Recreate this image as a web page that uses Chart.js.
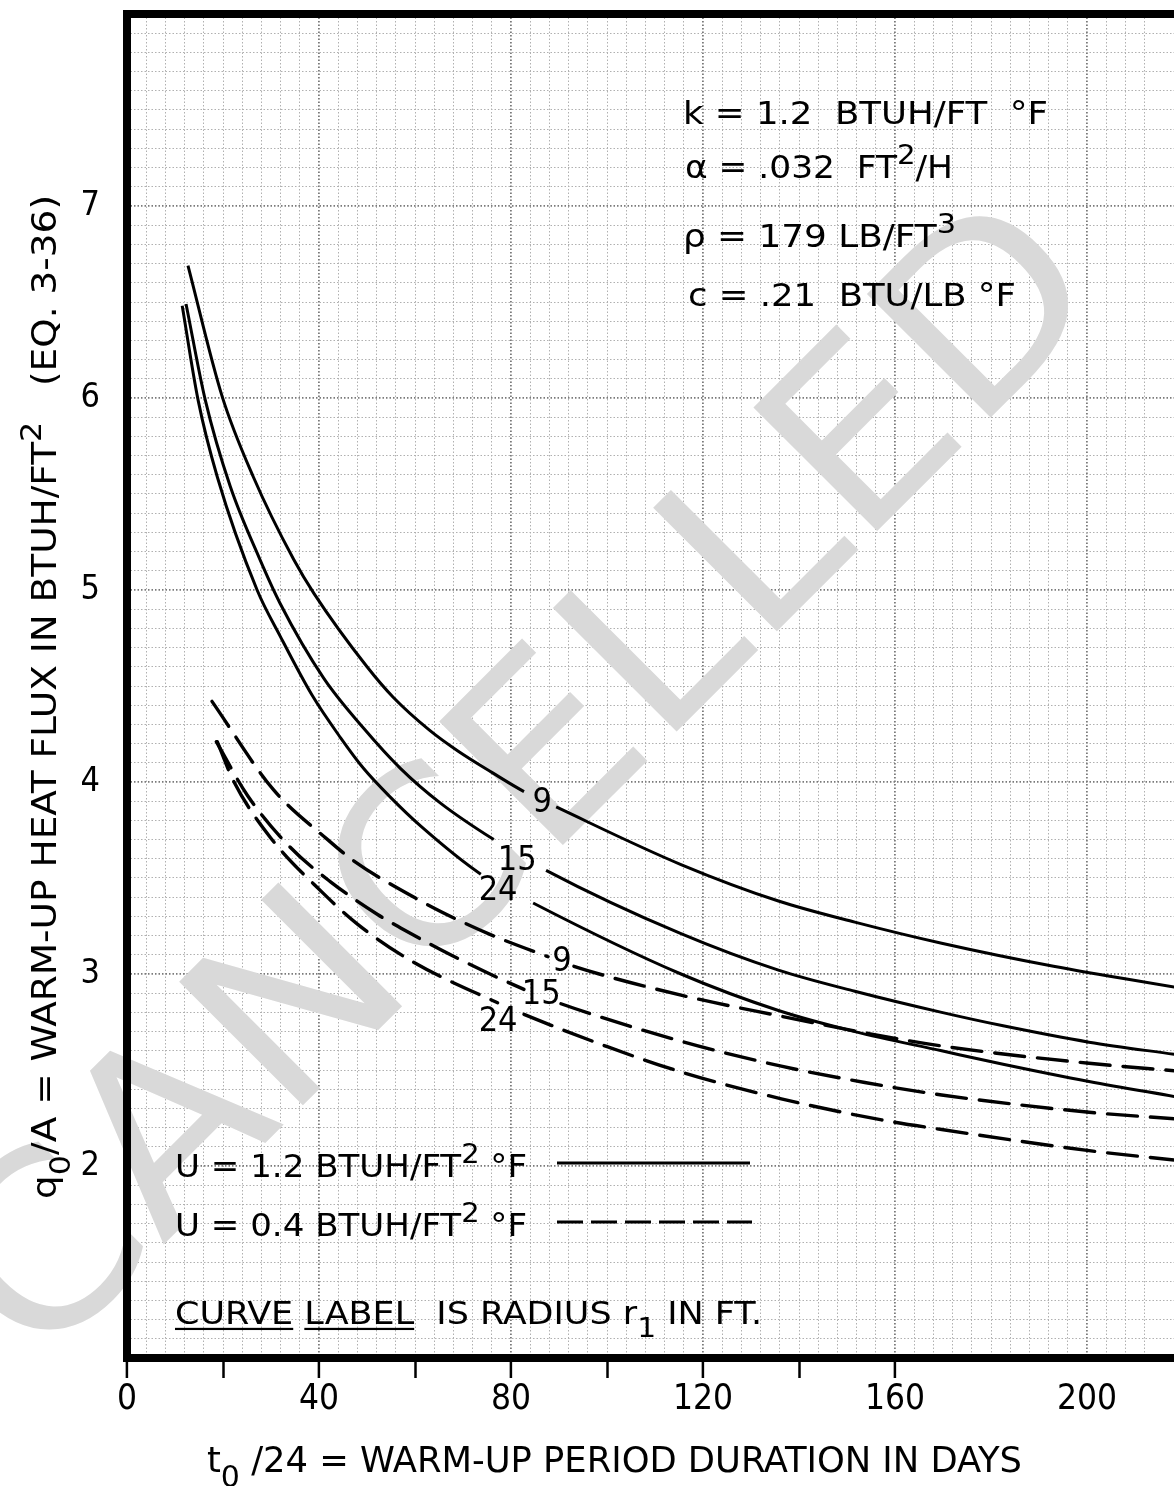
<!DOCTYPE html>
<html>
<head>
<meta charset="utf-8">
<script src="https://cdn.jsdelivr.net/npm/chart.js@4.4.1/dist/chart.umd.min.js"></script>
<style>
html,body{margin:0;padding:0;background:#fff;overflow:hidden}
#wrap{position:relative;width:1174px;height:1486px}
</style>
</head>
<body>
<div id="wrap"><canvas id="c" width="1174" height="1486"></canvas></div>
<script>
const FONT = "'DejaVu Sans Condensed','DejaVu Sans',sans-serif";

// ---------- DATA ----------
const curveLabels = ['9', '15', '24'];           // radius r1 in ft
const xTickLabels = [0, 40, 80, 120, 160, 200];   // days
const yTickLabels = [2, 3, 4, 5, 6, 7];           // BTUH/FT2

// U = 1.2 BTUH/FT2 F (solid)
const daysSolidR9  = [12.7, 19.8, 26.3, 34.7, 39, 50, 55.5, 63, 69, 76, 82.7, 89.4, 115.4, 135.7, 151.6, 169.7, 193, 218.6];
const fluxSolidR9  = [6.69, 6.01, 5.59, 5.16, 4.98, 4.60, 4.44, 4.27, 4.16, 4.05, 3.95, 3.87, 3.57, 3.38, 3.27, 3.16, 3.04, 2.93];
const daysSolidR15 = [12.3, 16.3, 21.5, 27.5, 31.9, 41, 49.3, 57, 65.3, 76.4, 87.3, 115.4, 135.7, 151.6, 169.7, 182.5, 200.4, 218.6];
const fluxSolidR15 = [6.49, 5.99, 5.54, 5.17, 4.93, 4.54, 4.28, 4.07, 3.89, 3.70, 3.54, 3.21, 3.02, 2.91, 2.80, 2.73, 2.645, 2.58];
const daysSolidR24 = [11.5, 14.8, 18.8, 27.1, 31.9, 38.6, 44.5, 49.3, 54.9, 61.2, 73.7, 84.6, 115.4, 135.7, 151.6, 169.7, 182.5, 200.4, 218.6];
const fluxSolidR24 = [6.48, 5.99, 5.59, 5.00, 4.76, 4.45, 4.23, 4.07, 3.92, 3.77, 3.52, 3.37, 3.00, 2.81, 2.70, 2.60, 2.53, 2.44, 2.36];

// U = 0.4 BTUH/FT2 F (dashed)
const daysDashedR9  = [17.7, 30.5, 41.8, 47.2, 61.2, 69.9, 76.2, 87.7, 93.1, 115.4, 136.3, 154.5, 169.7, 200.4, 218.6];
const fluxDashedR9  = [4.42, 3.96, 3.70, 3.59, 3.38, 3.27, 3.20, 3.09, 3.04, 2.89, 2.78, 2.69, 2.625, 2.535, 2.495];
const daysDashedR15 = [18.6, 25.1, 34.0, 42.4, 52.2, 57, 67.4, 82.7, 90.4, 115.4, 136.3, 153.7, 169.7, 200.4, 218.6];
const fluxDashedR15 = [4.21, 3.93, 3.66, 3.48, 3.31, 3.24, 3.10, 2.92, 2.845, 2.65, 2.52, 2.435, 2.37, 2.28, 2.245];
const daysDashedR24 = [18.8, 22.1, 29.9, 40.9, 48, 59.1, 77.2, 82.7, 100.2, 115.4, 136.3, 157.2, 169.7, 200.4, 218.6];
const fluxDashedR24 = [4.21, 4.01, 3.71, 3.42, 3.26, 3.07, 2.85, 2.79, 2.62, 2.49, 2.35, 2.24, 2.19, 2.08, 2.03];

// breaks in the curves where the radius label sits (days)
const gapSolid  = [[82.7, 89.4], [76.4, 87.3], [73.7, 84.6]];
const gapDashed = [[87.7, 93.1], [82.7, 90.4], [77.2, 82.7]];
// curve label anchors (days, flux)
const labelSolidDays  = [86.5, 81.3, 77.3];
const labelSolidFlux  = [3.89, 3.59, 3.43];
const labelDashedDays = [90.6, 86.3, 77.3];
const labelDashedFlux = [3.06, 2.89, 2.75];

// ---------- CHART ----------
const solidDays = [daysSolidR9, daysSolidR15, daysSolidR24];
const solidFlux = [fluxSolidR9, fluxSolidR15, fluxSolidR24];
const dashedDays = [daysDashedR9, daysDashedR15, daysDashedR24];
const dashedFlux = [fluxDashedR9, fluxDashedR15, fluxDashedR24];

function makeSet(days, flux, gap, dashed, name) {
  return {
    label: name,
    data: days.map((d, i) => ({x: d, y: flux[i]})),
    borderColor: '#000',
    borderWidth: dashed ? 3.4 : 3.0,
    borderDash: dashed ? [30, 13] : [],
    borderCapStyle: dashed ? 'round' : 'butt',
    pointRadius: 0,
    fill: false,
    cubicInterpolationMode: 'monotone',
    segment: {
      borderColor: c => (c.p0.parsed.x >= gap[0] - 1e-9 && c.p1.parsed.x <= gap[1] + 1e-9) ? 'rgba(0,0,0,0)' : '#000'
    }
  };
}
const datasets = [];
for (let i = 0; i < 3; i++) datasets.push(makeSet(solidDays[i], solidFlux[i], gapSolid[i], false, 'U=1.2 r=' + curveLabels[i]));
for (let i = 0; i < 3; i++) datasets.push(makeSet(dashedDays[i], dashedFlux[i], gapDashed[i], true, 'U=0.4 r=' + curveLabels[i]));

function fontFor(size) { return size + 'px ' + FONT; }
function drawRich(ctx, segs, x, y, size, targetW, angle) {
  ctx.save();
  ctx.translate(x, y);
  if (angle) ctx.rotate(angle);
  ctx.textAlign = 'left';
  ctx.textBaseline = 'alphabetic';
  let w = 0;
  const widths = segs.map(s => {
    const sz = (s.sup || s.sub) ? size * 0.85 : size;
    ctx.font = fontFor(sz);
    const m = ctx.measureText(s.t).width;
    w += m;
    return m;
  });
  const sx = targetW ? targetW / w : 1;
  ctx.scale(sx, 1);
  let cx = 0;
  segs.forEach((s, i) => {
    const sz = (s.sup || s.sub) ? size * 0.85 : size;
    ctx.font = fontFor(sz);
    const dy = s.sup ? -0.45 * size : (s.sub ? 0.42 * size : 0);
    ctx.fillStyle = '#000';
    ctx.fillText(s.t, cx, dy);
    if (s.ul) {
      ctx.fillRect(cx, 0.12 * size, widths[i], 2.2);
    }
    cx += widths[i];
  });
  ctx.restore();
}

const watermark = {
  id: 'watermark',
  beforeDatasetsDraw(chart) {
    const ctx = chart.ctx;
    ctx.save();
    ctx.translate(530, 790);
    ctx.rotate(-45 * Math.PI / 180);
    ctx.font = "240px 'DejaVu Sans', sans-serif";
    const txt = 'CANCELLED';
    const w = ctx.measureText(txt).width;
    ctx.scale(1520 / w, 1);
    ctx.fillStyle = '#d9d9d9';
    ctx.textAlign = 'center';
    ctx.textBaseline = 'middle';
    ctx.fillText(txt, 0, 0);
    ctx.restore();
  }
};

const annotations = {
  id: 'annotations',
  afterDatasetsDraw(chart) {
    const ctx = chart.ctx;
    const xs = chart.scales.x, ys = chart.scales.y;

    // curve labels
    ctx.save();
    ctx.fillStyle = '#000';
    ctx.textAlign = 'center';
    ctx.textBaseline = 'middle';
    ctx.font = fontFor(34);
    for (let i = 0; i < 3; i++) {
      ctx.fillText(curveLabels[i], xs.getPixelForValue(labelSolidDays[i]), ys.getPixelForValue(labelSolidFlux[i]));
      ctx.fillText(curveLabels[i], xs.getPixelForValue(labelDashedDays[i]), ys.getPixelForValue(labelDashedFlux[i]));
    }
    ctx.restore();

    // property block
    drawRich(ctx, [{t: 'k = 1.2  BTUH/FT  °F'}], 683, 124, 32, 365);
    drawRich(ctx, [{t: 'α = .032  FT'}, {t: '2', sup: 1}, {t: '/H'}], 685, 178, 32, 268);
    drawRich(ctx, [{t: 'ρ = 179 LB/FT'}, {t: '3', sup: 1}], 683, 247, 32, 273);
    drawRich(ctx, [{t: 'c = .21  BTU/LB °F'}], 688, 306, 32, 328);

    // legend block
    drawRich(ctx, [{t: 'U = 1.2 BTUH/FT'}, {t: '2', sup: 1}, {t: ' °F'}], 175, 1177, 32, 352);
    drawRich(ctx, [{t: 'U = 0.4 BTUH/FT'}, {t: '2', sup: 1}, {t: ' °F'}], 175, 1236, 32, 352);
    drawRich(ctx, [{t: 'CURVE', ul: 1}, {t: ' '}, {t: 'LABEL', ul: 1}, {t: '  IS RADIUS r'}, {t: '1', sub: 1}, {t: ' IN FT.'}], 175, 1324, 32, 587);
    ctx.save();
    ctx.strokeStyle = '#000';
    ctx.lineWidth = 3;
    ctx.beginPath(); ctx.moveTo(557, 1163); ctx.lineTo(750, 1163); ctx.stroke();
    ctx.setLineDash([26, 8]);
    ctx.beginPath(); ctx.moveTo(557, 1222); ctx.lineTo(752, 1222); ctx.stroke();
    ctx.restore();
  },
  afterDraw(chart) {
    const ctx = chart.ctx;
    const a = chart.chartArea;
    // heavy frame
    ctx.save();
    ctx.strokeStyle = '#000';
    ctx.lineWidth = 8;
    ctx.lineCap = 'square';
    ctx.beginPath();
    ctx.moveTo(a.right + 10, a.top);
    ctx.lineTo(a.left, a.top);
    ctx.lineTo(a.left, a.bottom);
    ctx.lineTo(a.right + 10, a.bottom);
    ctx.stroke();
    ctx.restore();
    // axis titles
    drawRich(ctx, [{t: 't'}, {t: '0', sub: 1}, {t: ' /24 = WARM-UP PERIOD DURATION IN DAYS'}], 207, 1472, 36, 815);
    drawRich(ctx, [{t: 'q'}, {t: '0', sub: 1}, {t: '/A = WARM-UP HEAT FLUX IN BTUH/FT'}, {t: '2', sup: 1}, {t: '   (EQ. 3-36)'}],
      56, 1199, 33, 1004, -Math.PI / 2);
  }
};

const isMult = (v, m) => Math.abs(v / m - Math.round(v / m)) < 1e-6;

new Chart(document.getElementById('c'), {
  type: 'line',
  data: {datasets},
  options: {
    responsive: false,
    animation: false,
    devicePixelRatio: 1,
    layout: {padding: {top: 14, left: 0, right: 0, bottom: 0}},
    plugins: {legend: {display: false}, tooltip: {enabled: false}, title: {display: false}},
    scales: {
      x: {
        type: 'linear',
        min: 0,
        max: 218.1,
        afterFit: s => { s.height = 128; s.paddingLeft = 0; s.paddingRight = 0; },
        border: {display: false, dash: [1.5, 2]},
        grid: {
          drawTicks: true,
          tickLength: 20,
          tickWidth: 2.5,
          tickBorderDash: [],
          tickColor: c => (c.tick && isMult(c.tick.value, 20) && c.tick.value <= 160) ? '#000' : 'rgba(0,0,0,0)',
          color: c => (c.tick && isMult(c.tick.value, 40)) ? '#7a7a7a' : '#b0b0b0',
          lineWidth: c => (c.tick && isMult(c.tick.value, 40)) ? 1.8 : 1
        },
        ticks: {
          stepSize: 4,
          autoSkip: false,
          maxRotation: 0,
          minRotation: 0,
          maxTicksLimit: 1000,
          padding: 4,
          color: '#000',
          font: {family: FONT, size: 35, lineHeight: 1},
          callback: v => xTickLabels.includes(Math.round(v)) && isMult(v, 1) ? String(Math.round(v)) : ''
        }
      },
      y: {
        type: 'linear',
        min: 1,
        max: 8,
        afterFit: s => { s.width = 127; s.paddingTop = 0; s.paddingBottom = 0; },
        border: {display: false, dash: [1.5, 2]},
        grid: {
          drawTicks: false,
          color: c => (c.tick && isMult(c.tick.value, 1)) ? '#7a7a7a' : '#b0b0b0',
          lineWidth: c => (c.tick && isMult(c.tick.value, 1)) ? 1.8 : 1
        },
        ticks: {
          stepSize: 0.1,
          autoSkip: false,
          maxTicksLimit: 1000,
          padding: 27,
          color: '#000',
          font: {family: FONT, size: 34, lineHeight: 1},
          callback: v => {
            const r = Math.round(v);
            return (isMult(v, 1) && yTickLabels.includes(r)) ? String(r) : '';
          }
        }
      }
    }
  },
  plugins: [watermark, annotations]
});
</script>
</body>
</html>
